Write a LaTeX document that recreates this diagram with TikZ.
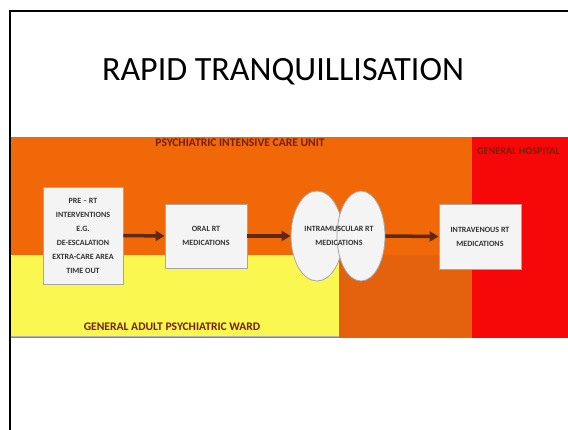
\documentclass[tikz,border=0pt]{standalone}
\usepackage{fontspec}
\setmainfont{Carlito}
\usetikzlibrary{arrows.meta,shapes.geometric,shadows}
\definecolor{picu}{RGB}{240,104,8}
\definecolor{picudark}{RGB}{228,98,14}
\definecolor{hosp}{RGB}{246,8,8}
\definecolor{ward}{RGB}{250,248,80}
\definecolor{arrowc}{RGB}{96,40,12}
\definecolor{boxfill}{RGB}{244,244,244}
\definecolor{zonetext}{RGB}{120,30,10}
\tikzset{
  stepbox/.style={draw=gray!70, line width=0.8pt, fill=boxfill, inner sep=2pt, align=center,
    font=\fontsize{8}{14}\selectfont\bfseries, text=black!80,
    drop shadow={opacity=0.35, shadow xshift=1.2pt, shadow yshift=-1.2pt}},
  cloudpart/.style={ellipse, draw=gray!70, line width=0.8pt, fill=boxfill, inner sep=0pt},
  flowarrow/.style={draw=arrowc, line width=3.5pt, -{Triangle[length=9pt,width=10pt]}},
  zonelabel/.style={font=\fontsize{11.6}{13}\selectfont\bfseries, text=zonetext},
  celltext/.style={font=\fontsize{8}{14}\selectfont\bfseries, text=black!80, align=center}
}
\begin{document}
\begin{tikzpicture}[x=1pt,y=-1pt]
\useasboundingbox (0,0) rectangle (568,430);
\fill[white] (0,0) rectangle (568,430);
% zones
\fill[picu] (10,137) rectangle (472,338);
\fill[picudark] (339,255) rectangle (472,338);
\fill[hosp] (472,137) rectangle (568,338);
\fill[ward] (10,255) rectangle (339,336);
\draw[gray!60, line width=0.6pt] (10,336) -- (339,336);
% frame
\draw[line width=2pt] (9.5,430) -- (9.5,11) -- (568,11);
% title
\node[font=\fontsize{34}{40}\selectfont] (title) at (283,72) {RAPID TRANQUILLISATION};
% zone labels
\node[zonelabel] (picuL) at (240,143) {PSYCHIATRIC INTENSIVE CARE UNIT};
\node[zonelabel, font=\fontsize{10.2}{12}\selectfont\bfseries, anchor=west, inner sep=0pt] (hospL) at (477,151) {GENERAL HOSPITAL};
\node[zonelabel] (wardL) at (172,327) {GENERAL ADULT PSYCHIATRIC WARD};
% boxes
\node[stepbox, minimum width=80pt, minimum height=97pt] (pre) at (83,235.5)
  {PRE -- RT\\INTERVENTIONS\\E.G.\\DE-ESCALATION\\EXTRA-CARE AREA\\TIME OUT};
\node[stepbox, minimum width=82pt, minimum height=64pt] (oral) at (206,236)
  {ORAL RT\\MEDICATIONS};
\node[cloudpart, minimum width=52pt, minimum height=90pt] (imL) at (317,236) {};
\node[cloudpart, minimum width=48pt, minimum height=90pt] (imR) at (361,236) {};
\node[celltext] (imT) at (339,236) {INTRAMUSCULAR RT\\MEDICATIONS};
\node[stepbox, minimum width=82pt, minimum height=65pt] (iv) at (480,236.5)
  {INTRAVENOUS RT\\MEDICATIONS};
% arrows
\draw[flowarrow] (pre.east) -- (oral.west);
\draw[flowarrow] (oral.east) -- (imL.west);
\draw[flowarrow] (imR.east) -- (iv.west);
\end{tikzpicture}
\end{document}
